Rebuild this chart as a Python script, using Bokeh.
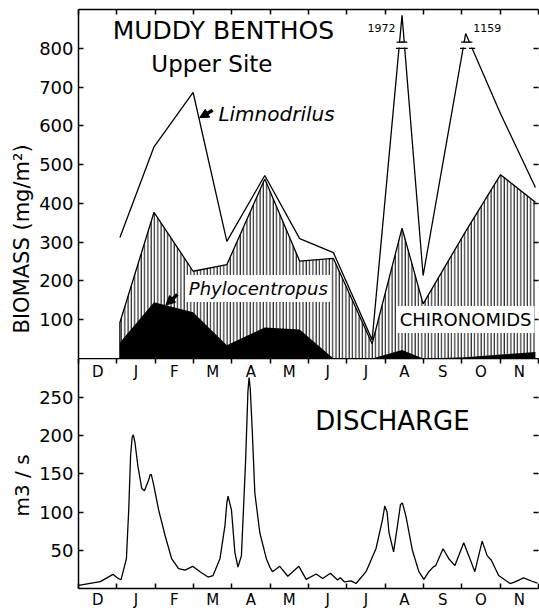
import numpy as np
from bokeh.plotting import figure
from bokeh.layouts import column
from bokeh.models import (Range1d, LinearAxis, FixedTicker, Label, Arrow, NormalHead, Title)
from bokeh.core.properties import value
from bokeh.embed import file_html
from bokeh.resources import INLINE

# ---------------- data ----------------
month_labels = ["D", "J", "F", "M", "A", "M", "J", "J", "A", "S", "O", "N"]

# sampling dates (months after 1 December)
dates = [1.08, 1.97, 2.99, 3.87, 4.86, 5.77, 6.65, 7.66, 8.44, 8.99, 10.10, 11.01, 11.92]
# cumulative biomass levels (mg/m2) as drawn
total_biomass = [312, 546, 686, 302, 472, 309, 273, 48, 1972, 214, 1159, 631, 441]
chironomid_top = [93, 377, 225, 242, 463, 251, 258, 38, 336, 141, 328, 474, 403]
phylocentropus = [41, 145, 119, 34, 80, 75, 0, 0, 22, 0, 3, 10, 17]
# off-scale peaks: index, drawn tip height
offscale_idx = [8, 10]
offscale_tip = [885, 838]

# discharge (m3/s)
dq_month = [0.00, 0.57, 0.90, 1.01, 1.11, 1.25, 1.31, 1.36, 1.40, 1.43, 1.47, 1.55, 1.65, 1.72,
            1.83, 1.87, 1.90, 1.96, 2.09, 2.26, 2.43, 2.61, 2.78, 2.98, 3.17, 3.38, 3.51, 3.69,
            3.82, 3.87, 3.90, 3.93, 3.99, 4.08, 4.16, 4.25, 4.36, 4.42, 4.45, 4.48, 4.53, 4.60,
            4.73, 4.90, 4.99, 5.06, 5.25, 5.46, 5.75, 5.94, 6.20, 6.37, 6.57, 6.76, 6.83, 6.94,
            7.11, 7.24, 7.50, 7.76, 7.93, 7.99, 8.05, 8.10, 8.22, 8.32, 8.40, 8.45, 8.54, 8.71,
            8.88, 9.01, 9.14, 9.25, 9.32, 9.51, 9.66, 9.82, 10.05, 10.18, 10.34, 10.53, 10.66,
            10.77, 10.96, 11.26, 11.39, 11.61, 11.83, 11.97]
dq_value = [4, 9, 18.5, 14, 11.5, 39, 103, 175, 198, 201, 192, 160, 131, 128,
            142, 149, 149, 136, 103, 69, 39, 26, 24, 29, 22, 15, 17, 39,
            82, 112, 121, 115, 103, 47, 28, 43, 168, 258, 276, 262, 210, 125,
            73, 39, 28, 22, 29, 16, 29, 12, 19, 13, 20, 11, 14, 8.6,
            10, 6.5, 22, 52, 90, 108, 100, 73, 48, 82, 110, 112, 95, 50,
            22, 12, 22, 28, 30, 52, 39, 30, 60, 43, 22, 62, 43,
            37, 17, 6.5, 8.6, 14, 9.5, 7]

biomass_ticks = [100, 200, 300, 400, 500, 600, 700, 800]
discharge_ticks = [50, 100, 150, 200, 250]

FONT = "DejaVu Sans"
boundaries = list(range(13))
centers = [i + 0.5 for i in range(12)]


def base_fig(height, y_range, border_top, border_bottom):
    f = figure(width=539, height=height, x_range=Range1d(0, 12), y_range=y_range,
               output_backend="svg", toolbar_location=None,
               x_axis_location=None, y_axis_location=None,
               min_border_left=78, min_border_right=1,
               min_border_top=border_top, min_border_bottom=border_bottom)
    f.outline_line_color = None
    f.grid.visible = False
    f.background_fill_color = "white"
    f.border_fill_color = "white"
    return f


def y_axes(f, ticks, title, offset, size):
    left = LinearAxis(ticker=FixedTicker(ticks=ticks),
                      major_tick_in=5, major_tick_out=0, minor_tick_line_color=None,
                      axis_line_width=1.5, major_tick_line_width=1.5,
                      major_label_text_font_size="18px", major_label_text_font=FONT,
                      major_label_text_color="black", major_label_standoff=5)
    f.add_layout(left, "left")
    f.add_layout(Title(text=title, align="left", offset=offset, standoff=6,
                       text_font=FONT, text_font_size=size, text_font_style="normal",
                       text_color="black"), "left")
    right = LinearAxis(ticker=FixedTicker(ticks=[], minor_ticks=ticks),
                       minor_tick_in=5, minor_tick_out=0, minor_tick_line_width=1.5,
                       minor_tick_line_color="black", axis_line_color=None,
                       major_label_standoff=0)
    f.add_layout(right, "right")


def tick_only_x_axis(f, side):
    ax = LinearAxis(ticker=FixedTicker(ticks=[], minor_ticks=boundaries),
                    minor_tick_in=5, minor_tick_out=0, minor_tick_line_width=1.5,
                    minor_tick_line_color="black", axis_line_width=1.5,
                    major_label_standoff=0)
    f.add_layout(ax, side)


# ---------------- upper panel: biomass ----------------
p1 = base_fig(358, Range1d(0, 900), 9, 0)
y_axes(p1, biomass_ticks, "BIOMASS (mg/m²)", 25, "21px")
tick_only_x_axis(p1, "above")

x0 = dates[0]
p1.varea(x=dates, y1=0, y2=chironomid_top, fill_color="white",
         hatch_pattern="vertical_line", hatch_scale=3.3, hatch_weight=1, hatch_color="black")
p1.varea(x=dates, y1=0, y2=phylocentropus, fill_color="black")
p1.line(x=[x0] + dates, y=[0] + chironomid_top, line_color="black", line_width=1.3)

total_drawn = list(total_biomass)
for i, tip in zip(offscale_idx, offscale_tip):
    total_drawn[i] = tip
p1.line(x=dates, y=total_drawn, line_color="black", line_width=1.3)

# break symbols on off-scale peaks
gap_lo, gap_hi = 800, 816
bx, by, qx_l, qx_r = [], [], [], []
for i, tip in zip(offscale_idx, offscale_tip):
    xa, va = dates[i - 1], total_drawn[i - 1]
    xb, vb = dates[i + 1], total_drawn[i + 1]
    xp = dates[i]
    for g in (gap_lo, gap_hi):
        bx += [xa + (g - va) / (tip - va) * (xp - xa), xb + (g - vb) / (tip - vb) * (xp - xb)]
        by += [g, g]
    qx_l.append(xa + (gap_lo - va) / (tip - va) * (xp - xa) - 0.12)
    qx_r.append(xb + (gap_lo - vb) / (tip - vb) * (xp - xb) + 0.12)
p1.quad(left=qx_l, right=qx_r, bottom=gap_lo + 2, top=gap_hi - 2,
        fill_color="white", line_color=None)
bx = np.array(bx)
p1.segment(x0=bx - 0.08, y0=by, x1=bx + 0.08, y1=by, line_color="black", line_width=1.2)

for i, align, dx in zip(offscale_idx, ["right", "left"], [-0.17, 0.2]):
    p1.add_layout(Label(x=dates[i] + dx, y=842, text=str(total_biomass[i]), text_align=align,
                        text_font=FONT, text_font_size="11px", text_color="black"))

p1.add_layout(Label(x=3.78, y=809, text="MUDDY BENTHOS", text_align="center",
                    text_font=FONT, text_font_size="25px", text_color="black"))
p1.add_layout(Label(x=3.48, y=727, text="Upper Site", text_align="center",
                    text_font=FONT, text_font_size="23px", text_color="black"))
p1.add_layout(Label(x=3.65, y=600, text="Limnodrilus", text_align="left",
                    text_font=FONT, text_font_style="italic", text_font_size="20px",
                    text_color="black"))
p1.add_layout(Label(x=2.80, y=146, text="Phylocentropus", text_align="left",
                    text_font=FONT, text_font_style="italic", text_font_size="18px",
                    text_color="black", background_fill_color="white", padding=3))
p1.add_layout(Label(x=8.30, y=66, text="CHIRONOMIDS", text_align="left",
                    text_font=FONT, text_font_size="18px", text_color="black",
                    background_fill_color="white", padding=3))

head = dict(size=9, fill_color="black", line_color="black")
p1.add_layout(Arrow(end=NormalHead(**head), x_start=3.50, y_start=640, x_end=3.16, y_end=621,
                    line_width=3.5, line_color="black"))
p1.add_layout(Arrow(end=NormalHead(**head), x_start=2.58, y_start=165, x_end=2.28, y_end=138,
                    line_width=3.5, line_color="black"))

# ---------------- lower panel: discharge ----------------
p2 = base_fig(253, Range1d(0, 301), 0, 0)
y_axes(p2, discharge_ticks, "m3 / s", 72, "20px")
# shared month axis between the panels: tick marks hanging from the biomass baseline
mid = LinearAxis(ticker=FixedTicker(ticks=[], minor_ticks=boundaries),
                 minor_tick_in=5, minor_tick_out=0, minor_tick_line_width=1.5,
                 minor_tick_line_color="black", axis_line_width=1.5, major_label_standoff=0)
p2.add_layout(mid, "above")
p2.text(x=centers, y=283, text=month_labels, text_font=value(FONT), text_font_size="15px",
        text_align="center", text_baseline="middle", text_color="black")

bottom = LinearAxis(ticker=FixedTicker(ticks=centers, minor_ticks=boundaries),
                    major_label_overrides={c: m for c, m in zip(centers, month_labels)},
                    major_tick_line_color=None, major_tick_in=0, major_tick_out=0,
                    minor_tick_in=5, minor_tick_out=0, minor_tick_line_width=1.5,
                    minor_tick_line_color="black", axis_line_width=1.5,
                    major_label_text_font_size="15px", major_label_text_font=FONT,
                    major_label_text_color="black", major_label_standoff=2)
p2.add_layout(bottom, "below")

p2.line(x=dq_month, y=dq_value, line_color="black", line_width=1.3)
p2.add_layout(Label(x=8.19, y=200, text="DISCHARGE", text_align="center",
                    text_font=FONT, text_font_size="26px", text_color="black"))

layout = column(p1, p2, spacing=0)
open("out.html", "w").write(file_html(layout, INLINE))
